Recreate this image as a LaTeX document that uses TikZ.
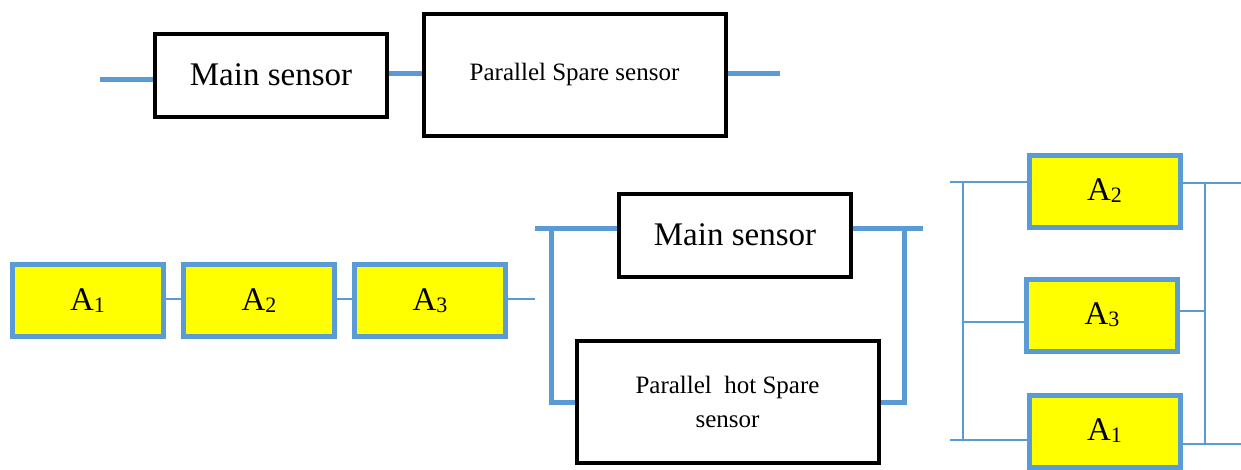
\documentclass[tikz,border=0pt]{standalone}
\usepackage{fontspec}
\setmainfont{Liberation Serif}
\newfontfamily\timesfont{Liberation Serif}
\usepackage{xcolor}
\definecolor{lnblue}{RGB}{91,155,213}
\definecolor{boxyellow}{RGB}{255,255,0}
\newcommand{\unitlbl}[1]{A\raisebox{-2pt}{\fontsize{22}{22}\selectfont #1}}

\begin{document}
\begin{tikzpicture}[x=1pt,y=-1pt,
  sensor/.style={draw,line width=4pt,minimum width=232pt,minimum height=83pt,inner sep=0pt,font=\timesfont\fontsize{33}{38}\selectfont},
  spare/.style={draw,line width=4pt,minimum width=302pt,minimum height=122pt,inner sep=0pt,align=center,font=\timesfont\fontsize{25}{34}\selectfont},
  unit/.style={draw=lnblue,fill=boxyellow,line width=5pt,minimum width=151pt,minimum height=72pt,inner sep=0pt,font=\timesfont\fontsize{33}{38}\selectfont},
  bar/.style={lnblue,line width=5pt},
  wire/.style={lnblue,line width=2pt}]
  \useasboundingbox (0,0) rectangle (1241,469);
  % Series sensor pair
  \node[sensor] (msens) at (271,75) {Main sensor};
  \node[spare] (pspare) at (574.5,74.5) {Parallel Spare sensor};
  \coordinate (tin) at (100,79);
  \coordinate (tout) at (780,73);
  \draw[bar] (tin) -- (tin -| msens.west);
  \draw[bar] (msens.east |- 0,73) -- (pspare.west |- 0,73);
  \draw[bar] (pspare.east |- tout) -- (tout);
  % Series units
  \node[unit] (sa1) at (87.5,300.5) {\unitlbl{1}};
  \node[unit] (sa2) at (259,300.5) {\unitlbl{2}};
  \node[unit] (sa3) at (430,300.5) {\unitlbl{3}};
  \coordinate (sout) at (535,299);
  \draw[wire] (sa1.east |- sout) -- (sa2.west |- sout);
  \draw[wire] (sa2.east |- sout) -- (sa3.west |- sout);
  \draw[wire] (sa3.east |- sout) -- (sout);
  % Hot spare pair
  \node[sensor] (hmain) at (735,235) {Main sensor};
  \node[spare] (hspare) at (727.5,402) {Parallel\ \ hot Spare\\sensor};
  \coordinate (hin) at (535,228);
  \coordinate (hinv) at (551,228);
  \coordinate (hout) at (923,228);
  \coordinate (houtv) at (904,228);
  \draw[bar] (hin) -- (hmain.west |- hin);
  \draw[bar] (hinv) |- (hspare.west);
  \draw[bar] (hmain.east |- hout) -- (hout);
  \draw[bar] (houtv) |- (hspare.east);
  % Parallel units
  \node[unit] (pa2) at (1104.5,191) {\unitlbl{2}};
  \node[unit] (pa3) at (1102,315) {\unitlbl{3}};
  \node[unit] (pa1) at (1104.5,431) {\unitlbl{1}};
  \coordinate (lt) at (950,182);
  \coordinate (lb) at (950,440);
  \coordinate (lvt) at (963,182);
  \coordinate (lvb) at (963,440);
  \coordinate (rt) at (1241,183);
  \coordinate (rb) at (1241,444);
  \coordinate (rvt) at (1205,183);
  \coordinate (rvb) at (1205,444);
  \draw[wire] (lt) -- (pa2.west |- lt);
  \draw[wire] (lb) -- (pa1.west |- lb);
  \draw[wire] (lvt) -- (lvb);
  \draw[wire] (lvt |- 0,322) -- (pa3.west |- 0,322);
  \draw[wire] (pa2.east |- rt) -- (rt);
  \draw[wire] (pa1.east |- rb) -- (rb);
  \draw[wire] (rvt) -- (rvb);
  \draw[wire] (pa3.east |- 0,311) -- (rvt |- 0,311);
\end{tikzpicture}
\end{document}
